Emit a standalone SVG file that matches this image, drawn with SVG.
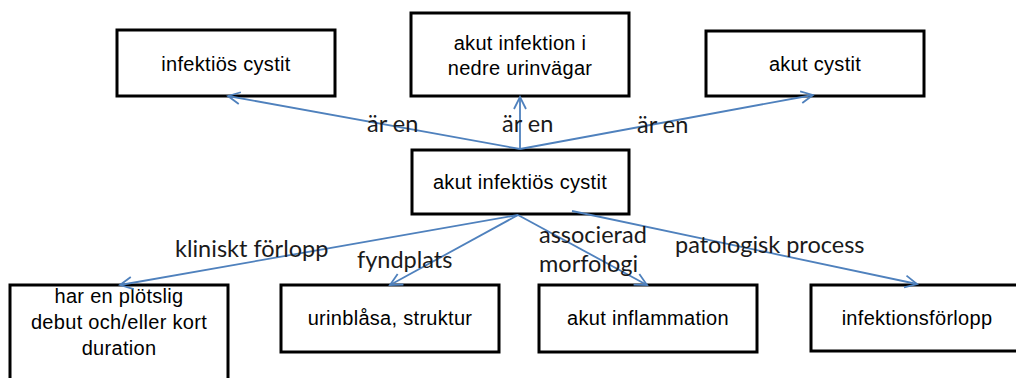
<svg xmlns="http://www.w3.org/2000/svg" width="1016" height="378" viewBox="0 0 1016 378">
<style>
.box{fill:#fff;stroke:#000;stroke-width:3}
.t{font-family:"Liberation Sans",Arial,sans-serif;font-size:20px;letter-spacing:0.3px;fill:#000;text-anchor:middle}
.l{font-family:Lato,"Open Sans","Liberation Sans",sans-serif;font-size:23.5px;fill:#1a1a1a}
.c{fill:none;stroke:#4f81bd;stroke-width:1.8}
</style>
<defs>
<marker id="ah" markerUnits="userSpaceOnUse" markerWidth="20" markerHeight="20" refX="13" refY="7" orient="auto" viewBox="0 0 20 14">
<path d="M1,1 L13,7 L1,13" fill="none" stroke="#4f81bd" stroke-width="1.8"/>
</marker>
</defs>
<rect width="1016" height="378" fill="#fff"/>
<g id="n1"><rect class="box" x="117" y="30" width="218" height="66"/><text class="t" x="226" y="71">infektiös cystit</text></g>
<g id="n2"><rect class="box" x="411" y="13" width="218" height="83"/><text class="t" x="520" y="50">akut infektion i</text><text class="t" x="520" y="75">nedre urinvägar</text></g>
<g id="n3"><rect class="box" x="706" y="31" width="218" height="65"/><text class="t" x="815" y="71">akut cystit</text></g>
<g id="n4"><rect class="box" x="412" y="150" width="217" height="64"/><text class="t" x="520" y="189">akut infektiös cystit</text></g>
<g id="n5"><rect class="box" x="10" y="285" width="218" height="110"/><text class="t" x="119" y="303">har en plötslig</text><text class="t" x="119" y="329">debut och/eller kort</text><text class="t" x="119" y="355">duration</text></g>
<g id="n6"><rect class="box" x="281" y="285" width="218" height="67"/><text class="t" x="390" y="325">urinblåsa, struktur</text></g>
<g id="n7"><rect class="box" x="539" y="285" width="218" height="67"/><text class="t" x="648" y="325">akut inflammation</text></g>
<g id="n8"><rect class="box" x="811" y="285" width="218" height="66"/><text class="t" x="917" y="325">infektionsförlopp</text></g>
<g id="connectors">
<line class="c" x1="520" y1="149" x2="228" y2="96" marker-end="url(#ah)"/>
<line class="c" x1="520" y1="149" x2="520" y2="97" marker-end="url(#ah)"/>
<line class="c" x1="520" y1="149" x2="813" y2="95" marker-end="url(#ah)"/>
<line class="c" x1="518" y1="215" x2="120" y2="285" marker-end="url(#ah)"/>
<line class="c" x1="518" y1="215" x2="390" y2="285" marker-end="url(#ah)"/>
<line class="c" x1="518" y1="215" x2="647" y2="285" marker-end="url(#ah)"/>
<line class="c" x1="572" y1="211" x2="917" y2="284" marker-end="url(#ah)"/>
<text class="l" x="367" y="132">är en</text>
<text class="l" x="502" y="132">är en</text>
<text class="l" x="637" y="133">är en</text>
<text class="l" x="175" y="257">kliniskt förlopp</text>
<text class="l" x="357" y="268">fyndplats</text>
<text class="l" x="539" y="243">associerad</text>
<text class="l" x="539" y="272">morfologi</text>
<text class="l" x="675" y="253">patologisk process</text>
</g>
</svg>
